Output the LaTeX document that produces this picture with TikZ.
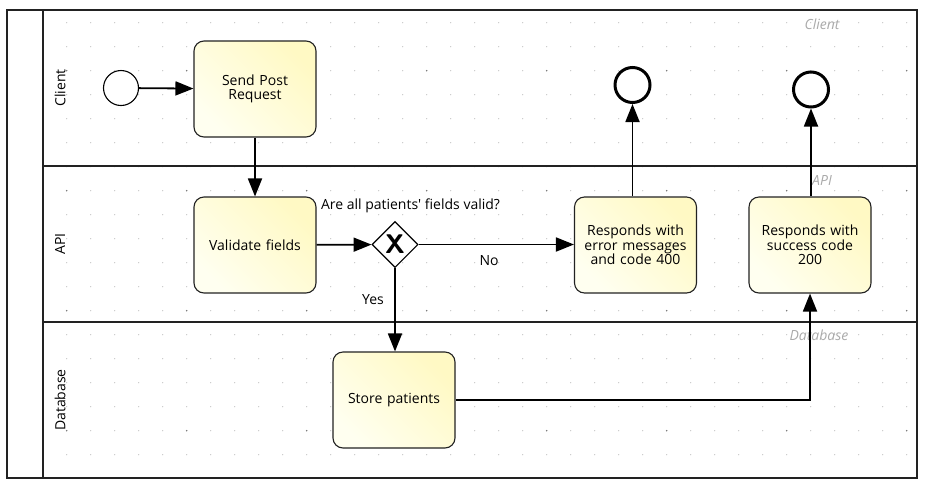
\documentclass[tikz,border=0pt]{standalone}
\usepackage{fontspec}
\setmainfont{Open Sans}
\usetikzlibrary{arrows.meta,shapes.geometric}
\definecolor{boxlight}{HTML}{FFFFF0}
\definecolor{boxdark}{HTML}{FFF9C4}
\definecolor{dotlight}{HTML}{C8C8C8}
\definecolor{dotdark}{HTML}{707070}
\definecolor{lanegray}{HTML}{AAAAAA}
\definecolor{linecol}{HTML}{222222}
\newcommand{\txtsize}{\fontsize{14}{14.6}\selectfont}
\tikzset{
  task/.style={draw=linecol, line width=1.1pt, rounded corners=10pt, minimum width=122pt, minimum height=96pt,
    inner sep=2pt, align=center, font=\txtsize, text width=118pt,
    left color=boxlight, right color=boxdark, shading angle=135},
  flow/.style={line width=1.8pt, -{Triangle[length=18pt,width=14pt]}},
  startev/.style={circle, draw=black, line width=1.1pt, minimum size=35pt, inner sep=0pt, fill=white},
  endev/.style={circle, draw=black, line width=3pt, minimum size=35pt, inner sep=0pt, fill=white},
  gw/.style={diamond, draw=black, line width=1.1pt, fill=white, minimum width=46pt, minimum height=46pt, inner sep=0pt, aspect=1},
  lanetitle/.style={rotate=90, font=\txtsize},
  lanetag/.style={text=lanegray, font=\txtsize\itshape},
  lbl/.style={font=\txtsize, inner sep=0pt},
  laneline/.style={draw=linecol, line width=1.4pt}
}
\begin{document}
\begin{tikzpicture}[x=1pt,y=-1pt]
\useasboundingbox (0,0) rectangle (928,488);
\fill[white] (0,0) rectangle (928,488);
% dot grid
\foreach \i in {0,...,35}{
  \foreach \j in {0,...,18}{
    \pgfmathtruncatemacro{\mi}{mod(\i,5)}
    \pgfmathtruncatemacro{\mj}{mod(\j+3,5)}
    \ifnum\mi=0 \ifnum\mj=0
      \fill[dotdark] (66.7+24*\i,22.7+24*\j) circle (0.8);
    \else
      \fill[dotlight] (66.7+24*\i,22.7+24*\j) circle (0.7);
    \fi\else
      \fill[dotlight] (66.7+24*\i,22.7+24*\j) circle (0.7);
    \fi
  }
}
% pool and lanes
\draw[laneline] (7,10) rectangle (917,478);
\draw[laneline] (43,10) -- (43,478);
\draw[laneline] (43,166) -- (917,166);
\draw[laneline] (43,322) -- (917,322);
\node[lanetitle] (lc) at (60,88) {Client};
\node[lanetitle] (la) at (60,244) {API};
\node[lanetitle] (ld) at (60,400) {Database};
\node[lanetag] (tc) at (822,24) {Client};
\node[lanetag] (ta) at (822,180) {API};
\node[lanetag] (td) at (819,335) {Database};
% nodes
\node[startev] (s) at (121,88) {};
\node[task] (send) at (255,89) {Send Post\\Request};
\node[task] (val) at (255,245) {Validate fields};
\node[gw] (g) at (395,244.5) {};
\node[font=\fontsize{27}{27}\bfseries\sffamily, inner sep=0pt] (gx) at (g.center) {X};
\node[task] (err) at (635.5,245) {Responds with\\error messages\\and code 400};
\node[task] (ok) at (810,245) {Responds with\\success code\\200};
\node[task] (store) at (394,400) {Store patients};
\node[endev] (e1) at (632.5,85) {};
\node[endev] (e2) at (811,89.5) {};
% labels
\node[lbl] (q) at (410.5,206) {Are all patients\textquotesingle\ fields valid?};
\node[lbl] (no) at (489,261) {No};
\node[lbl] (yes) at (373,300) {Yes};
% flows
\draw[flow] (s) -- (send);
\draw[flow] (send) -- (val);
\draw[flow] (val) -- (g);
\draw[flow] (g.east) -- (err.west |- g.east);
\draw[flow] (g.south) -- (store.north -| g.south);
\draw[flow] (err.north -| e1) -- (e1.south);
\draw[flow] (ok.north -| e2) -- (e2.south);
\draw[flow] (store.east) -| (ok.south);
\end{tikzpicture}
\end{document}
